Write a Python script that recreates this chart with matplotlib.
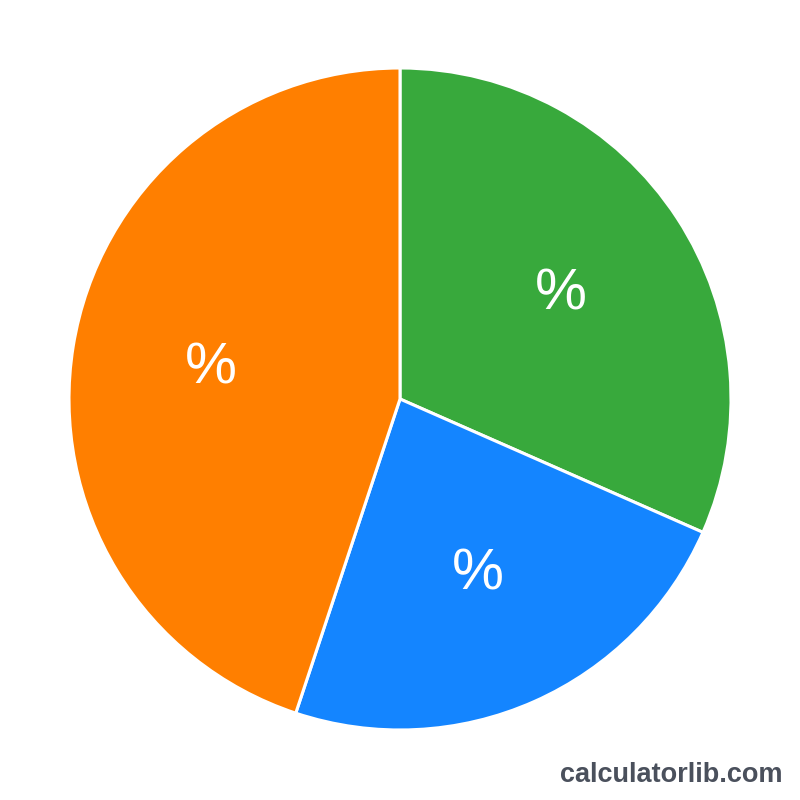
import matplotlib
matplotlib.use("Agg")
import matplotlib.pyplot as plt

categories = ["Green", "Blue", "Orange"]
values = [31.6, 23.5, 44.9]
colors = ["#38A93C", "#1485FF", "#FF7F00"]
label_text = "%"

fig = plt.figure(figsize=(8, 8), dpi=100)
ax = fig.add_axes([0, 0, 1, 1])
R = 331 / 400.0
wedges, texts, autotexts = ax.pie(
    values,
    colors=colors,
    startangle=90, counterclock=False, radius=R,
    center=(0, 0.0025),
    wedgeprops=dict(edgecolor="white", linewidth=2.2),
    autopct=lambda p: label_text, pctdistance=0.58,
    textprops=dict(color="white", fontsize=42, family=["Liberation Sans", "DejaVu Sans"]),
)
ax.set_xlim(-1, 1)
ax.set_ylim(-1, 1)
ax.set_aspect("equal")
ax.axis("off")

fig.text(0.978, 0.0225, "calculatorlib.com", ha="right", va="baseline",
         fontsize=19.5, fontweight="bold", color="#4A505C",
         family=["Liberation Sans", "DejaVu Sans"])

fig.savefig("out.png", dpi=100, facecolor="white")
